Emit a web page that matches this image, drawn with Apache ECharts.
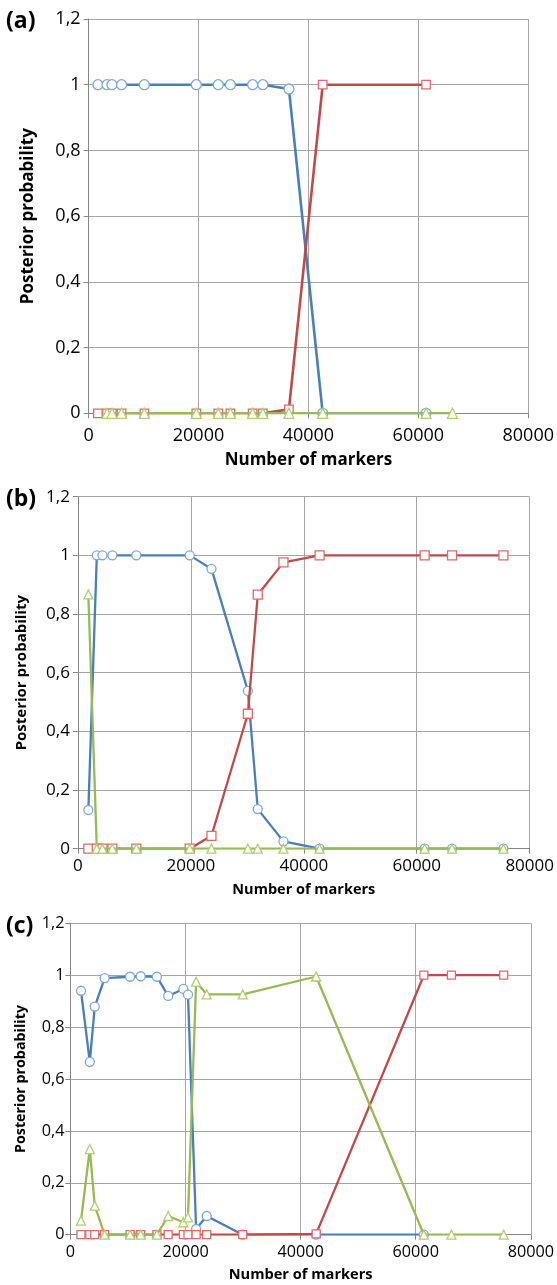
<!DOCTYPE html>
<html><head><meta charset="utf-8">
<script src="https://cdn.jsdelivr.net/npm/echarts@6/dist/echarts.min.js"></script>
<style>html,body{margin:0;padding:0;background:#fff}#c{width:557px;height:1285px}</style>
</head><body><div id="c"></div>
<script>
// ---- tick values / texts ----
const xTicks = [0, 20000, 40000, 60000, 80000];
const yTicks = [0, 0.2, 0.4, 0.6, 0.8, 1, 1.2];
const panelLabels = ['(a)', '(b)', '(c)'];
const xTitle = 'Number of markers';
const yTitle = 'Posterior probability';

// ---- panel (a) ----
const aX     = [1700, 3350, 4250, 6000, 10150, 19600, 23600, 25800, 29850, 31700, 36450, 42600, 61400, 66200];
const aBlue  = [1, 1, 1, 1, 1, 1, 1, 1, 1, 1, 0.987, 0, 0, null];
const aRed   = [0, 0, 0, 0, 0, 0, 0, 0, 0, 0, 0.012, 1, 1, null];
const aGreen = [null, 0, 0, 0, 0, 0, 0, 0, 0, 0, 0, 0, 0, 0];

// ---- panel (b) ----
const bX     = [1850, 3350, 4350, 6100, 10350, 19800, 23650, 30100, 31850, 36400, 42800, 61400, 66250, 75350];
const bBlue  = [0.132, 1, 1, 1, 1, 1, 0.954, 0.538, 0.135, 0.025, 0, 0, 0, 0];
const bRed   = [0, 0, 0, 0, 0, 0, 0.044, 0.46, 0.866, 0.976, 1, 1, 1, 1];
const bGreen = [0.867, 0, 0, 0, 0, 0, 0, 0, 0, 0, 0, 0, 0, 0];

// ---- panel (c) ----
const cX     = [1840, 3370, 4230, 5950, 10370, 12210, 15030, 16990, 19630, 20430, 21840, 23680, 29940, 42700, 61410, 66200, 75280];
const cBlue  = [0.94, 0.666, 0.879, 0.989, 0.994, 0.996, 0.994, 0.92, 0.947, 0.925, 0.022, 0.072, 0, 0, 0, null, null];
const cRed   = [0, 0, 0, 0, 0, 0, 0, 0, 0, 0, 0, 0, 0, 0.003, 1, 1, 1];
const cGreen = [0.054, 0.33, 0.112, 0, 0, 0, 0, 0.072, 0.048, 0.067, 0.975, 0.926, 0.926, 0.995, 0, 0, 0];

const FONT = 'Open Sans';
const pairs = (xs, ys) => xs.map((x, i) => [x, ys[i]]).filter(p => p[1] !== null);

const panels = [
  {X: aX, B: aBlue, R: aRed, G: aGreen,
   grid: {left: 88.6, top: 19, width: 443.4, height: 394.3},
   tick: 18, title: 17, ytitle: 17, xMargin: 14, xGap: 38, yMargin: 8, yGap: 52,
   lw: 2.6, sym: {c: 10, s: 8.5, t: 10}, lab: {left: 6, top: 10}},
  {X: bX, B: bBlue, R: bRed, G: bGreen,
   grid: {left: 77.9, top: 496.7, width: 456.7, height: 352},
   tick: 17, title: 14.5, ytitle: 15, xMargin: 9, xGap: 34, yMargin: 8, yGap: 49,
   lw: 2.3, sym: {c: 9, s: 9, t: 9}, lab: {left: 6, top: 488}},
  {X: cX, B: cBlue, R: cRed, G: cGreen,
   grid: {left: 70.4, top: 923.3, width: 465.3, height: 311.4},
   tick: 16.2, title: 14.6, ytitle: 14.3, xMargin: 10, xGap: 33, yMargin: 6, yGap: 42,
   lw: 2.3, sym: {c: 9, s: 8, t: 9}, lab: {left: 6, top: 915}}
];

const AX = '#868686', GRID = '#a6a6a6';
const option = {
  animation: false,
  backgroundColor: '#fff',
  title: panels.map((p, i) => ({
    text: panelLabels[i], left: p.lab.left, top: p.lab.top, padding: 0,
    textStyle: {fontFamily: FONT, fontWeight: 'bold', fontSize: 23, color: '#000'}
  })),
  grid: panels.map(p => p.grid),
  xAxis: panels.map((p, i) => ({
    type: 'value', gridIndex: i, min: xTicks[0], max: xTicks[xTicks.length - 1], interval: xTicks[1] - xTicks[0],
    name: xTitle, nameLocation: 'middle', nameGap: p.xGap,
    nameTextStyle: {fontFamily: FONT, fontWeight: 'bold', fontSize: p.title, color: '#000'},
    axisLine: {show: true, lineStyle: {color: AX, width: 1}},
    axisTick: {show: true, length: 5, inside: false, lineStyle: {color: AX}},
    axisLabel: {fontFamily: FONT, fontSize: p.tick, color: '#000', margin: p.xMargin,
      formatter: v => String(v)},
    splitLine: {show: true, lineStyle: {color: GRID, width: 1}}
  })),
  yAxis: panels.map((p, i) => ({
    type: 'value', gridIndex: i, min: yTicks[0], max: yTicks[yTicks.length - 1], interval: 0.2,
    name: yTitle, nameLocation: 'middle', nameGap: p.yGap,
    nameTextStyle: {fontFamily: FONT, fontWeight: 'bold', fontSize: p.ytitle, color: '#000'},
    axisLine: {show: true, lineStyle: {color: AX, width: 1}},
    axisTick: {show: true, length: 5, inside: false, lineStyle: {color: AX}},
    axisLabel: {fontFamily: FONT, fontSize: p.tick, color: '#000', margin: p.yMargin,
      formatter: v => String(Math.round(v * 10) / 10).replace('.', ',')},
    splitLine: {show: true, lineStyle: {color: GRID, width: 1}}
  })),
  series: []
};

const styles = [
  {key: 'B', line: '#4a7ebb', mark: '#7fa6db', symbol: 'circle', sz: 'c'},
  {key: 'R', line: '#be4b48', mark: '#e06a67', symbol: 'rect', sz: 's'},
  {key: 'G', line: '#98b954', mark: '#add072', symbol: 'triangle', sz: 't'}
];
panels.forEach((p, i) => {
  styles.forEach((s, k) => {
    option.series.push({
      type: 'line', xAxisIndex: i, yAxisIndex: i,
      data: pairs(p.X, p[s.key]),
      symbol: s.symbol, symbolSize: p.sym[s.sz], showSymbol: true,
      z: 2 + k,
      lineStyle: {color: s.line, width: p.lw},
      itemStyle: {color: '#fff', borderColor: s.mark, borderWidth: 1.3},
      emphasis: {disabled: true}
    });
  });
});

const chart = echarts.init(document.getElementById('c'), null, {renderer: 'canvas'});
chart.setOption(option);
</script>
</body></html>
